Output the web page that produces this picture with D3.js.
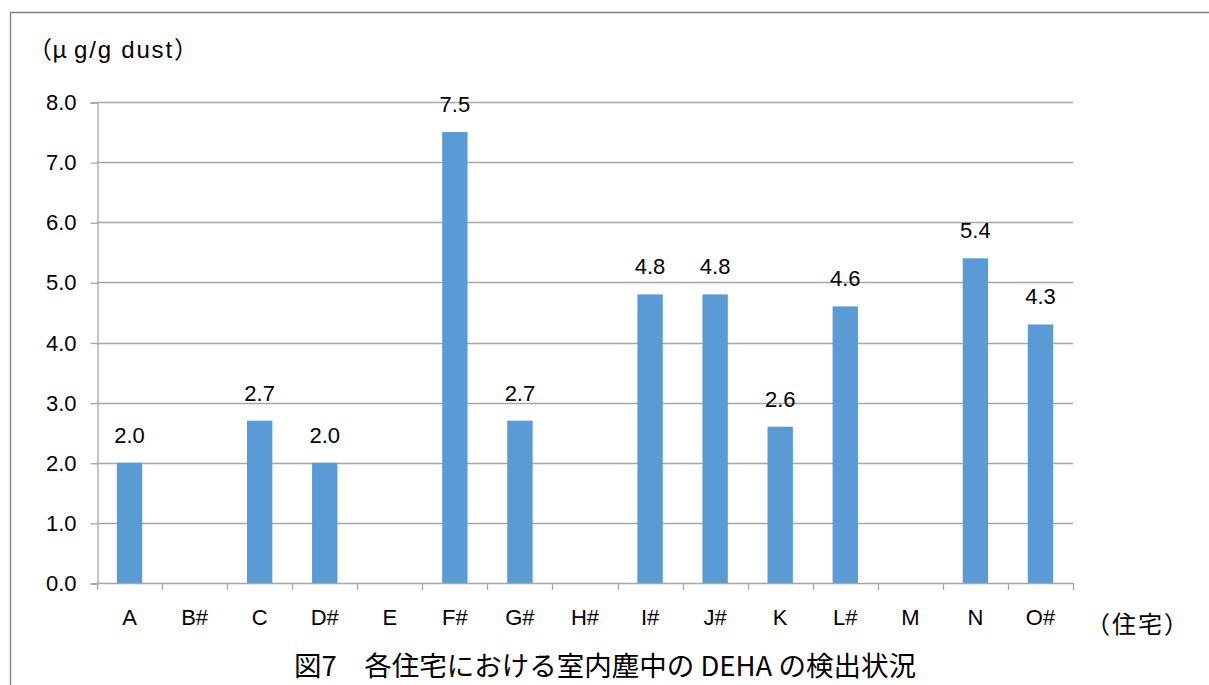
<!DOCTYPE html>
<html>
<head>
<meta charset="utf-8">
<script src="https://cdn.jsdelivr.net/npm/d3@7/dist/d3.min.js"></script>
<style>
  html, body { margin: 0; padding: 0; background: #fff; }
  #chart { width: 1209px; height: 685px; }
</style>
</head>
<body>
<div id="chart"></div>
<script>
// 住宅ごとの DEHA 検出値 (μg/g dust)、null = 未検出
const houses = ["A", "B#", "C", "D#", "E", "F#", "G#", "H#", "I#", "J#", "K", "L#", "M", "N", "O#"];
const values = [2.0, null, 2.7, 2.0, null, 7.5, 2.7, null, 4.8, 4.8, 2.6, 4.6, null, 5.4, 4.3];
const yTicks = [0, 1, 2, 3, 4, 5, 6, 7, 8];

const width = 1209;
const height = 685;
const margin = { top: 102, right: 136, bottom: 102, left: 97 };
const latin = "'Liberation Sans', Arial, sans-serif";
const cjk = "'Noto Sans CJK JP', 'Noto Sans', sans-serif";
const fs = 22;

const svg = d3.select("#chart")
  .append("svg")
  .attr("width", width)
  .attr("height", height);

// 外枠
svg.append("path")
  .attr("d", `M10.5,${height} V12.5 H${width}`)
  .attr("fill", "none")
  .attr("stroke", "#7f7f7f")
  .attr("stroke-width", 1.3);

const x = d3.scaleBand()
  .domain(houses)
  .range([margin.left, width - margin.right])
  .paddingInner(0.61)
  .paddingOuter(0.305);

const y = d3.scaleLinear()
  .domain([0, 8])
  .range([height - margin.bottom, margin.top]);

// 目盛線
svg.append("g")
  .selectAll("line")
  .data(yTicks.slice(1))
  .join("line")
  .attr("x1", margin.left)
  .attr("x2", width - margin.right)
  .attr("y1", (d) => Math.round(y(d)) + 0.5)
  .attr("y2", (d) => Math.round(y(d)) + 0.5)
  .attr("stroke", "#a6a6a6")
  .attr("stroke-width", 1.3);

// 縦軸
const yAxis = svg.append("g")
  .attr("transform", `translate(${margin.left + 0.5},0.5)`)
  .call(d3.axisLeft(y).tickValues(yTicks).tickSize(7).tickPadding(14).tickFormat(d3.format(".1f")));
yAxis.select(".domain").attr("stroke", "#a6a6a6").attr("stroke-width", 1.3);
yAxis.selectAll(".tick line").attr("stroke", "#a6a6a6").attr("stroke-width", 1.3);
yAxis.selectAll("text")
  .attr("fill", "#000")
  .attr("font-size", fs)
  .attr("font-family", latin);

// 棒
svg.append("g")
  .selectAll("rect")
  .data(houses.map((h, i) => ({ h, v: values[i] })).filter((d) => d.v != null))
  .join("rect")
  .attr("x", (d) => x(d.h))
  .attr("y", (d) => y(d.v))
  .attr("width", x.bandwidth())
  .attr("height", (d) => y(0) - y(d.v))
  .attr("fill", "#5b9bd5");

// 値ラベル
svg.append("g")
  .selectAll("text")
  .data(houses.map((h, i) => ({ h, v: values[i] })).filter((d) => d.v != null))
  .join("text")
  .attr("x", (d) => x(d.h) + x.bandwidth() / 2)
  .attr("y", (d) => y(d.v) - 20)
  .attr("text-anchor", "middle")
  .attr("font-size", fs)
  .attr("font-family", latin)
  .attr("fill", "#000")
  .text((d) => d3.format(".1f")(d.v));

// 横軸 (区切り目盛)
const step = x.step();
const bounds = d3.range(houses.length + 1).map((i) => margin.left + i * step);
const xAxisG = svg.append("g");
xAxisG.append("line")
  .attr("x1", margin.left)
  .attr("x2", width - margin.right)
  .attr("y1", y(0) + 0.5)
  .attr("y2", y(0) + 0.5)
  .attr("stroke", "#a6a6a6")
  .attr("stroke-width", 1.3);
xAxisG.selectAll("line.sep")
  .data(bounds)
  .join("line")
  .attr("class", "sep")
  .attr("x1", (d) => Math.round(d) + 0.5)
  .attr("x2", (d) => Math.round(d) + 0.5)
  .attr("y1", y(0))
  .attr("y2", y(0) + 7)
  .attr("stroke", "#a6a6a6")
  .attr("stroke-width", 1.3);
xAxisG.selectAll("text")
  .data(houses)
  .join("text")
  .attr("x", (d) => x(d) + x.bandwidth() / 2)
  .attr("y", y(0) + 42)
  .attr("text-anchor", "middle")
  .attr("font-size", fs)
  .attr("font-family", latin)
  .attr("fill", "#000")
  .text((d) => d);

// 単位
const unit = svg.append("text")
  .attr("x", 28)
  .attr("y", 58)
  .attr("font-size", 24)
  .attr("font-family", cjk)
  .attr("fill", "#000");
unit.append("tspan").text("（");
unit.append("tspan").attr("dx", 0).text("μ");
unit.append("tspan").attr("dx", 7).attr("font-family", latin).attr("letter-spacing", 1.8).text("g/g dust");
unit.append("tspan").attr("dx", 0).text("）");

svg.append("text")
  .attr("x", 1086)
  .attr("y", 633)
  .attr("font-size", 24)
  .attr("font-family", cjk)
  .attr("letter-spacing", 2)
  .attr("fill", "#000")
  .text("（住宅）");

// 図タイトル
svg.append("text")
  .attr("x", 605)
  .attr("y", 676)
  .attr("text-anchor", "middle")
  .attr("font-size", 27.5)
  .attr("font-family", cjk)
  .attr("fill", "#000")
  .text("図7　各住宅における室内塵中の DEHA の検出状況");
</script>
</body>
</html>
